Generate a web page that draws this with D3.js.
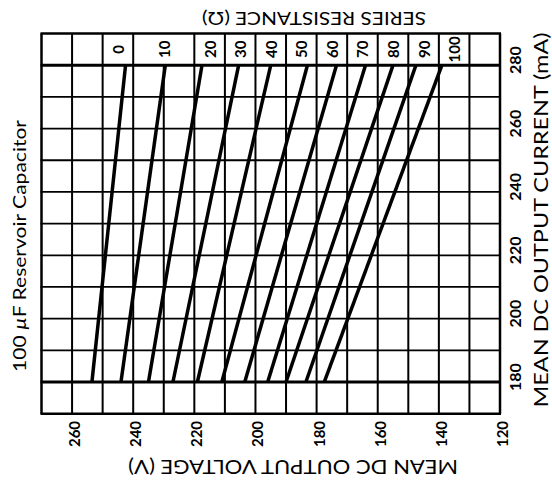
<!DOCTYPE html>
<html>
<head>
<meta charset="utf-8">
<script src="https://cdn.jsdelivr.net/npm/d3@7"></script>
<style>
  body { margin: 0; background: #fff; }
  text { font-family: Lato, "Open Sans", sans-serif; fill: #000; }
</style>
</head>
<body>
<div id="chart"></div>
<script>
// series resistance (ohm) of each curve
const resistances = [0, 10, 20, 30, 40, 50, 60, 70, 80, 90, 100];
// mean DC output voltage (V) where each curve meets 180 mA and 280 mA
const voltsAt180 = [253.5, 244, 235, 227, 219, 211, 203.5, 196, 190, 183.5, 177.5];
const voltsAt280 = [242.5, 229.5, 217.5, 205.5, 195, 183, 173.5, 164, 155, 147.5, 139];
const voltageTicks = [260, 240, 220, 200, 180, 160, 140, 120];
const currentTicks = [180, 200, 220, 240, 260, 280];

const width = 552, height = 494;

const svg = d3.select('#chart').append('svg')
  .attr('width', width)
  .attr('height', height)
  .style('background', '#fff');

// voltage runs from high to low, left to right
const x = d3.scaleLinear().domain([270, 120]).range([41.5, 500]);
const y = d3.scaleLinear().domain([170, 290]).range([413.7, 33.5]);

const gridVolts = d3.range(270, 119, -10);
const gridAmps = d3.range(170, 291, 10);

// vertical grid: the 230 V line stops under the label row
svg.append('g').selectAll('line')
  .data(gridVolts)
  .join('line')
  .attr('x1', d => x(d)).attr('x2', d => x(d))
  .attr('y1', d => d === 230 ? y(280) : y(290))
  .attr('y2', y(170))
  .attr('stroke', '#000')
  .attr('stroke-width', d => (d === 270 || d === 120) ? 2.5 : 2);

svg.append('g').selectAll('line')
  .data(gridAmps)
  .join('line')
  .attr('x1', x(270) - 1).attr('x2', x(120) + 1)
  .attr('y1', d => y(d)).attr('y2', d => y(d))
  .attr('stroke', '#000')
  .attr('stroke-width', d => (d === 180 || d === 280) ? 3 : (d === 170 || d === 290) ? 2.5 : 1.8);

// resistance curves
const curves = resistances.map((r, i) => ({r, v180: voltsAt180[i], v280: voltsAt280[i]}));

svg.append('g').selectAll('line')
  .data(curves)
  .join('line')
  .attr('x1', d => x(d.v180)).attr('y1', y(180))
  .attr('x2', d => x(d.v280)).attr('y2', y(280))
  .attr('stroke', '#000')
  .attr('stroke-width', 3.5);

// labels sit centred in the box of the top row above each curve
const separators = gridVolts.filter(v => v !== 230).map(v => x(v)).sort((a, b) => a - b);
function boxCentre(px) {
  const left = d3.max(separators.filter(s => s <= px));
  const right = d3.min(separators.filter(s => s > px));
  return (left + right) / 2;
}

svg.append('g').selectAll('text')
  .data(curves)
  .join('text')
  .attr('transform', d => `translate(${boxCentre(x(d.v280))},${y(285)}) rotate(-90)`)
  .attr('text-anchor', 'middle')
  .attr('dominant-baseline', 'central')
  .style('font-size', '15px')
  .style('font-weight', 'bold')
  .text(d => d.r);

// tick labels
svg.append('g').selectAll('text')
  .data(voltageTicks)
  .join('text')
  .attr('transform', d => `translate(${x(d) + 2},434) rotate(-90)`)
  .attr('text-anchor', 'middle')
  .attr('dominant-baseline', 'central')
  .style('font-size', '15px')
  .style('font-weight', 'bold')
  .text(d => d);

svg.append('g').selectAll('text')
  .data(currentTicks)
  .join('text')
  .attr('transform', d => `translate(514,${y(d) - 5}) rotate(-90)`)
  .attr('text-anchor', 'middle')
  .attr('dominant-baseline', 'central')
  .style('font-size', '16px')
  .style('font-weight', 'bold')
  .text(d => d);

// titles (top and bottom are printed upside down)
function title(tx, ty, angle, size, len, str) {
  return svg.append('text')
    .attr('transform', `translate(${tx},${ty}) rotate(${angle})`)
    .attr('text-anchor', 'middle')
    .attr('dominant-baseline', 'central')
    .attr('textLength', len)
    .attr('lengthAdjust', 'spacingAndGlyphs')
    .style('font-size', size + 'px')
    .text(str);
}

title(314, 18, 180, 17, 224, 'SERIES RESISTANCE (Ω)');
title(293, 468, 180, 20, 330, 'MEAN DC OUTPUT VOLTAGE (V)');
title(540, 220, -90, 20, 375, 'MEAN DC OUTPUT CURRENT (mA)');

const cap = svg.append('text')
  .attr('transform', 'translate(19,246) rotate(-90)')
  .attr('text-anchor', 'middle')
  .attr('dominant-baseline', 'central')
  .attr('textLength', 252)
  .attr('lengthAdjust', 'spacingAndGlyphs')
  .style('font-size', '18px');
cap.append('tspan').text('100 ');
cap.append('tspan').style('font-style', 'italic').text('µ');
cap.append('tspan').text('F Reservoir Capacitor');
</script>
</body>
</html>
